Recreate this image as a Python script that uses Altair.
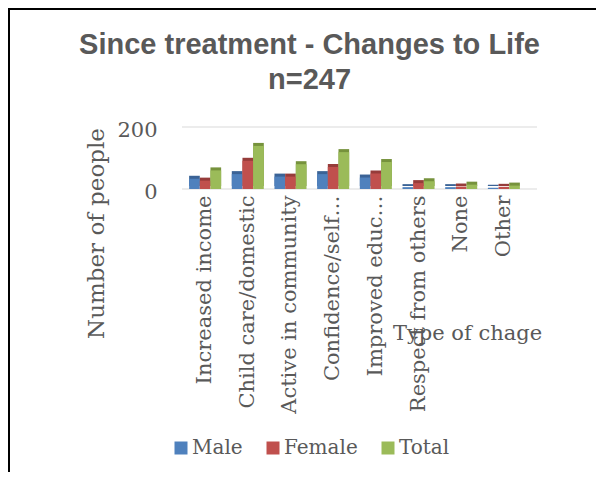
import altair as alt
import pandas as pd

categories = ["Increased income", "Child care/domestic", "Active in community",
              "Confidence/self…", "Improved educ…", "Respect from others", "None", "Other"]
male = [33, 48, 40, 48, 37, 6, 6, 4]
female = [27, 91, 40, 71, 50, 19, 8, 7]
total = [60, 139, 80, 119, 87, 25, 14, 11]
series = ["Male", "Female", "Total"]
colors = ["#4f81bd", "#c0504d", "#9bbb59"]
dark_colors = ["#3b6396", "#963c3a", "#76923c"]
y_ticks = [0, 200]

rows = []
for i, c in enumerate(categories):
    for s, vals in zip(series, [male, female, total]):
        rows.append({"Category": c, "Series": s, "Value": vals[i]})
df = pd.DataFrame(rows)
grid_df = pd.DataFrame({"Value": y_ticks})

SERIF = "DejaVu Serif"
GRAY = "#595959"

W, H = 341, 62

y_axis = alt.Axis(title="Number of people", values=y_ticks, grid=False,
                  domain=False, ticks=False, labelFont=SERIF, labelFontSize=21,
                  labelColor=GRAY, labelPadding=27, labelOffset=3,
                  titleFont=SERIF, titleFontSize=23, titleColor=GRAY,
                  titleFontWeight="normal", titleAngle=270, titleX=-88,
                  titleY=106, titleAlign="center", titleBaseline="middle")
y_scale = alt.Scale(domain=[0, 200], nice=False)

x_enc = alt.X("Category:N", sort=categories,
              scale=alt.Scale(paddingInner=0.25, paddingOuter=0.12),
              axis=alt.Axis(title="Type of chage", labelAngle=270, labelFont=SERIF,
                            labelFontSize=21, labelColor=GRAY, labelPadding=6,
                            ticks=False, domain=False, labelLimit=400,
                            titleFont=SERIF, titleFontSize=21, titleColor=GRAY,
                            titleFontWeight="normal", titleX=283, titleY=144,
                            titleAlign="center", titleBaseline="middle", titleAngle=0))
y_enc = alt.Y("Value:Q", scale=y_scale, axis=y_axis)

frame = alt.Chart(grid_df.head(1)).mark_rect(fillOpacity=0, stroke="black", strokeWidth=2).encode(
    x=alt.value(-175), x2=alt.value(600), y=alt.value(-118), y2=alt.value(500))

grid = alt.Chart(grid_df).mark_rule(color="#d9d9d9", strokeWidth=1).encode(
    y=y_enc, x=alt.value(-2), x2=alt.value(353))

depth = alt.Chart(df).mark_bar(xOffset=3, yOffset=-3).encode(
    x=x_enc, y=y_enc,
    xOffset=alt.XOffset("Series:N", sort=series),
    color=alt.Color("Series:N", sort=series,
                    scale=alt.Scale(domain=series, range=dark_colors), legend=None))

bars = alt.Chart(df).mark_bar().encode(
    x=x_enc, y=y_enc,
    xOffset=alt.XOffset("Series:N", sort=series),
    color=alt.Color("Series:N", sort=series,
                    scale=alt.Scale(domain=series, range=colors),
                    legend=alt.Legend(title=None, orient="none", legendX=-13, legendY=311,
                                      direction="horizontal", symbolType="square",
                                      symbolSize=169, symbolStrokeWidth=0,
                                      labelFont=SERIF, labelFontSize=20, labelColor=GRAY,
                                      labelOffset=1, columnPadding=20, padding=0)))

chart = alt.layer(frame, grid, depth, bars).resolve_scale(color="independent").properties(
    width=W, height=H,
    autosize=alt.AutoSizeParams(type="none"),
    padding={"left": 176, "top": 119, "right": 71, "bottom": 283},
    title=alt.TitleParams(["Since treatment - Changes to Life", "n=247"],
                          font="Liberation Sans", fontSize=29, fontWeight="bold",
                          color=GRAY, anchor="middle", frame="group", dx=-45,
                          dy=117, offset=30, lineHeight=35),
).configure_view(stroke=None)

chart.save("out.html", embed_options={"renderer": "svg", "actions": False})
